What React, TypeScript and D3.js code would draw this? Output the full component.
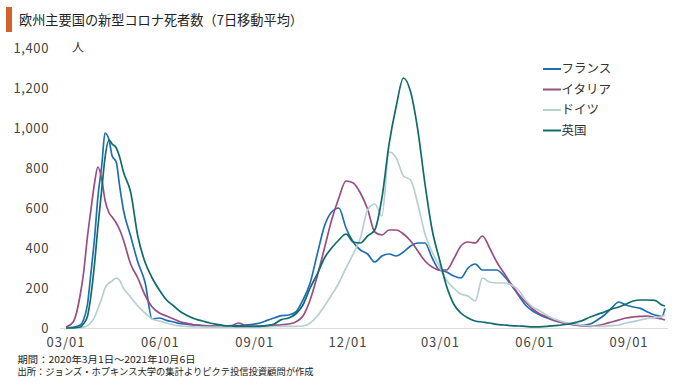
import React from "react";
import * as d3 from "d3";

const dates = [
  "2020-03-01","2020-03-08","2020-03-15","2020-03-18","2020-03-22","2020-03-25","2020-03-29",
  "2020-04-01","2020-04-05","2020-04-08","2020-04-12","2020-04-15","2020-04-19","2020-04-22","2020-04-26",
  "2020-05-03","2020-05-10","2020-05-17","2020-05-24","2020-05-31",
  "2020-06-07","2020-06-14","2020-06-21","2020-06-28",
  "2020-07-05","2020-07-12","2020-07-19","2020-07-26",
  "2020-08-02","2020-08-09","2020-08-16","2020-08-23","2020-08-30",
  "2020-09-06","2020-09-13","2020-09-20","2020-09-27",
  "2020-10-04","2020-10-11","2020-10-18","2020-10-25",
  "2020-11-01","2020-11-08","2020-11-15","2020-11-22","2020-11-29",
  "2020-12-06","2020-12-13","2020-12-20","2020-12-27",
  "2021-01-03","2021-01-10","2021-01-17","2021-01-24","2021-01-31",
  "2021-02-07","2021-02-14","2021-02-21","2021-02-28",
  "2021-03-07","2021-03-14","2021-03-21","2021-03-28",
  "2021-04-04","2021-04-11","2021-04-18","2021-04-25",
  "2021-05-02","2021-05-09","2021-05-16","2021-05-23","2021-05-30",
  "2021-06-06","2021-06-13","2021-06-20","2021-06-27",
  "2021-07-04","2021-07-11","2021-07-18","2021-07-25",
  "2021-08-01","2021-08-08","2021-08-15","2021-08-22","2021-08-29",
  "2021-09-05","2021-09-12","2021-09-19","2021-09-26",
  "2021-10-03","2021-10-06",
];

const france = [
  0, 3, 15, 40, 120, 260, 460,
  650, 820, 975, 940, 860, 830, 720, 590,
  460, 330, 230, 45, 50,
  38, 30, 22, 18,
  15, 12, 10, 10,
  10, 12, 12, 15, 18,
  25, 38, 50, 62,
  65, 80, 140, 225,
  370, 510, 580, 600, 500,
  430, 390, 370, 330,
  360, 370, 360, 380, 410,
  425, 425, 350, 290,
  280, 260, 250, 300,
  320, 290, 290, 290,
  260, 215, 165, 115, 85,
  65, 50, 38, 28,
  22, 18, 15, 20,
  40, 65, 100, 130, 115,
  105, 98, 80, 65,
  57, 98,
];

const italy = [
  5, 30, 170, 270, 460, 580, 730,
  805, 740, 640, 575, 555, 525, 495, 440,
  320, 250, 165, 105, 75,
  60, 45, 30, 22,
  15, 12, 10, 8,
  8, 10, 25, 12, 8,
  10, 12, 14, 16,
  20, 30, 60, 140,
  260, 400, 540, 650, 735,
  725, 675, 595, 480,
  465, 490, 490, 470, 435,
  385, 335, 305, 290,
  290, 345, 410, 430,
  425, 460, 400, 330,
  275, 220, 170, 130, 95,
  70, 55, 38, 28,
  20, 14, 10, 8,
  12, 20, 30, 40, 50,
  55, 58, 60, 52,
  45, 40,
];

const germany = [
  0, 0, 2, 4, 12, 25, 55,
  95, 150, 200, 225, 235, 250, 240, 200,
  155, 110, 75, 45, 35,
  25, 15, 10, 7,
  5, 5, 4, 4,
  4, 4, 5, 5, 5,
  5, 6, 7, 8,
  8, 8, 10, 25,
  60, 110, 165, 225, 300,
  370, 450, 590, 620,
  560, 880, 850, 760, 740,
  620, 470, 380, 310,
  240, 200, 170, 160,
  135, 250, 230, 225,
  225, 215, 190, 140, 105,
  85, 63, 45, 33,
  24, 18, 14, 10,
  8, 8, 12, 15, 25,
  32, 40, 48, 52,
  57, 65,
];

const uk = [
  0, 1, 5, 20, 60, 150, 330,
  500, 700, 850, 940, 920, 900, 860, 780,
  680, 460, 330, 250, 190,
  140, 110, 80, 60,
  45, 35, 25, 18,
  12, 10, 8, 8, 8,
  8, 12, 20, 42,
  50, 70, 115, 200,
  270, 350, 400, 440, 470,
  430, 425, 460, 490,
  650, 920, 1110, 1250, 1180,
  990, 720, 490, 345,
  210, 120, 75, 50,
  35, 30, 25, 18,
  15, 12, 10, 8, 6,
  6, 8, 12, 15,
  20, 28, 38, 55,
  68, 80, 95, 105, 120,
  135, 140, 140, 138,
  115, 110,
];

const seriesNames = ["フランス", "イタリア", "ドイツ", "英国"];
const seriesColors = ["#1f6db3", "#9a4d84", "#b7cfd2", "#0f6b6c"];
const seriesValues = [france, italy, germany, uk];

const yTicks = [0, 200, 400, 600, 800, 1000, 1200, 1400];
const xTickDates = ["2020-03-01", "2020-06-01", "2020-09-01", "2020-12-01", "2021-03-01", "2021-06-01", "2021-09-01"];

const titleText = "欧州主要国の新型コロナ死者数（7日移動平均）";
const unitText = "人";
const noteLines = [
  "期間：2020年3月1日～2021年10月6日",
  "出所：ジョンズ・ホプキンス大学の集計よりピクテ投信投資顧問が作成",
];
const noteWidths = [178, 296];

const FONT = "'Noto Sans CJK JP', 'Noto Sans', sans-serif";

export default function App() {
  const parse = d3.utcParse("%Y-%m-%d");
  const parsedDates = dates.map((d) => parse(d) as Date);
  const x = d3
    .scaleUtc()
    .domain([parse("2020-03-01") as Date, parse("2021-10-06") as Date])
    .range([66, 665]);
  const y = d3.scaleLinear().domain([0, 1400]).range([328, 48]);
  const fmt = d3.utcFormat("%m/%d");

  const line = d3
    .line<number>()
    .x((_, i) => x(parsedDates[i]))
    .y((v) => y(v))
    .curve(d3.curveMonotoneX);

  return (
    <svg
      width={680}
      height={386}
      style={{ position: "absolute", left: 0, top: 0, background: "#fff" }}
      fontFamily={FONT}
    >
      <rect x={0} y={0} width={680} height={386} fill="#fff" />
      <rect x={6} y={7} width={6} height={25} fill="#d2622b" />
      <text x={19} y={25} fontSize={13.5} fill="#222" textLength={284} lengthAdjust="spacingAndGlyphs">
        {titleText}
      </text>

      {yTicks.map((t) => (
        <text
          key={t}
          x={49}
          y={y(t)}
          dy="0.35em"
          textAnchor="end"
          fontSize={13}
          fill="#444"
          letterSpacing={0.6}
        >
          {d3.format(",")(t)}
        </text>
      ))}
      <text x={78} y={y(1400)} dy="0.35em" textAnchor="middle" fontSize={12} fill="#333">
        {unitText}
      </text>

      <line x1={60} x2={668} y1={y(0) + 0.5} y2={y(0) + 0.5} stroke="#dcdcdc" strokeWidth={1} />

      {xTickDates.map((d) => (
        <text
          key={d}
          x={x(parse(d) as Date)}
          y={342}
          dy="0.35em"
          textAnchor="middle"
          fontSize={13}
          fill="#444"
          letterSpacing={1}
        >
          {fmt(parse(d) as Date)}
        </text>
      ))}

      {seriesValues.map((vals, i) => (
        <path
          key={seriesNames[i]}
          d={line(vals) || ""}
          fill="none"
          stroke={seriesColors[i]}
          strokeWidth={1.7}
          strokeLinejoin="round"
        />
      ))}

      {seriesNames.map((name, i) => (
        <g key={name} transform={`translate(543, ${69 + i * 20.5})`}>
          <line x1={0} x2={18} y1={0} y2={0} stroke={seriesColors[i]} strokeWidth={2} />
          <text x={18.5} y={0} dy="0.35em" fontSize={12.5} fill="#333">
            {name}
          </text>
        </g>
      ))}

      {noteLines.map((t, i) => (
        <text
          key={i}
          x={17.5}
          y={359.5 + i * 12.5}
          dy="0.35em"
          fontSize={9.5}
          fill="#222"
          textLength={noteWidths[i]}
          lengthAdjust="spacingAndGlyphs"
        >
          {t}
        </text>
      ))}
    </svg>
  );
}
